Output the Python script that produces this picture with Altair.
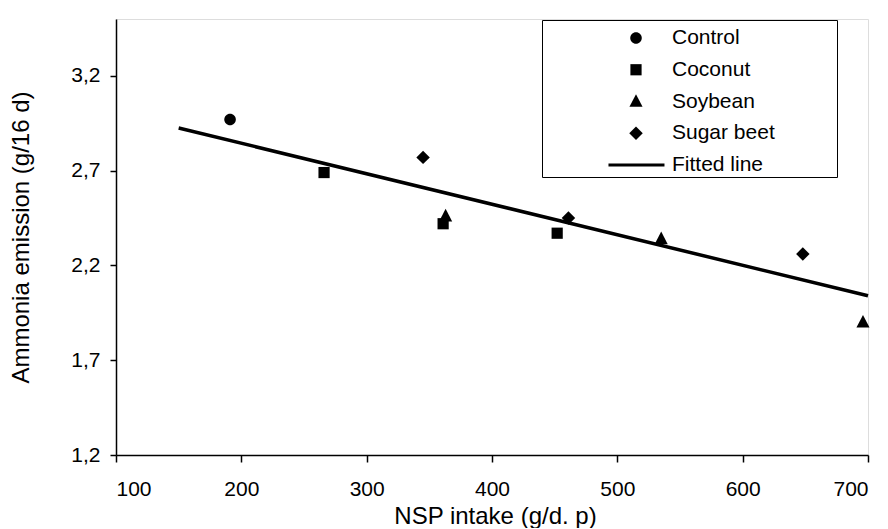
import altair as alt
import pandas as pd

# ---- data ----
groups = ["Control", "Coconut", "Soybean", "Sugar beet"]
control_x = [191]
control_y = [2.97]
coconut_x = [266, 361, 452]
coconut_y = [2.69, 2.42, 2.37]
soybean_x = [363, 535, 696]
soybean_y = [2.46, 2.34, 1.90]
sugarbeet_x = [345, 461, 648]
sugarbeet_y = [2.77, 2.45, 2.26]
fit_x = [150, 700]
fit_y = [2.925, 2.04]
x_ticks = [100, 200, 300, 400, 500, 600, 700]
y_ticks = [1.2, 1.7, 2.2, 2.7, 3.2]

rows = []
for g, xs, ys in zip(groups,
                     [control_x, coconut_x, soybean_x, sugarbeet_x],
                     [control_y, coconut_y, soybean_y, sugarbeet_y]):
    for xv, yv in zip(xs, ys):
        rows.append({"group": g, "x": xv, "y": yv})
points_df = pd.DataFrame(rows)
fit_df = pd.DataFrame({"x": fit_x, "y": fit_y})

FONT = "Liberation Sans"
SYM = 1024  # symbol size -> unit radius 16 px

shape_domain = groups + ["Fitted line"]
shape_range = [
    "M0.36,0A0.36,0.36,0,1,1,-0.36,0A0.36,0.36,0,1,1,0.36,0Z",
    "M-0.35,-0.35L0.35,-0.35L0.35,0.35L-0.35,0.35Z",
    "M0,-0.46L0.41,0.33L-0.41,0.33Z",
    "M0,-0.42L0.42,0L0,0.42L-0.42,0Z",
    "M-1.72,-0.1L1.78,-0.1L1.78,0.1L-1.72,0.1Z",
]

xscale = alt.Scale(domain=[100, 700], nice=False, zero=False)
yscale = alt.Scale(domain=[1.2, 3.5], nice=False, zero=False)

x_axis = alt.Axis(
    values=x_ticks, title="NSP intake (g/d. p)", grid=False,
    tickSize=7, tickWidth=1.5, tickColor="black",
    domainColor="black", domainWidth=1.5,
    labelFont=FONT, labelFontSize=21, labelColor="black", labelPadding=16,
    titleFont=FONT, titleFontSize=24, titleFontWeight="normal", titleColor="black",
    titleX=379, titleY=68, titleBaseline="alphabetic", titleAlign="center",
)
y_axis = alt.Axis(
    values=y_ticks, title="Ammonia emission  (g/16 d)", grid=False,
    tickSize=6, tickWidth=1.5, tickColor="black",
    domainColor="black", domainWidth=1.5,
    labelFont=FONT, labelFontSize=21, labelColor="black", labelPadding=10,
    labelExpr="replace(format(datum.value, '.1f'), '.', ',')",
    titleFont=FONT, titleFontSize=24, titleFontWeight="normal", titleColor="black",
    titleX=-88, titleY=218, titleAngle=-90, titleBaseline="alphabetic", titleAlign="center",
)

line = alt.Chart(fit_df).mark_line(color="black", strokeWidth=3.5).encode(
    x=alt.X("x:Q", scale=xscale, axis=x_axis),
    y=alt.Y("y:Q", scale=yscale, axis=y_axis),
)

points = alt.Chart(points_df).mark_point(
    filled=True, size=SYM, color="black", opacity=1, strokeWidth=0
).encode(
    x=alt.X("x:Q", scale=xscale),
    y=alt.Y("y:Q", scale=yscale),
    shape=alt.Shape(
        "group:N",
        scale=alt.Scale(domain=shape_domain, range=shape_range),
        legend=alt.Legend(
            title="MMMM", titleOrient="right", titleOpacity=0, titlePadding=0,
            titleFont=FONT, titleFontSize=18, titleFontWeight="normal",
            orient="none", legendX=426, legendY=1,
            strokeColor="black", fillColor="white",
            padding=2, rowPadding=5.75,
            symbolSize=SYM, symbolFillColor="black", symbolStrokeWidth=0,
            symbolOpacity=1, symbolOffset=76,
            labelFont=FONT, labelFontSize=21, labelColor="black",
            labelOffset=20,
        ),
    ),
)

chart = alt.layer(line, points).properties(
    width=752, height=436, autosize="none",
    padding={"left": 108, "top": 11, "right": 12, "bottom": 73},
).configure_view(stroke=None).configure_legend(strokeWidth=1.5).configure(background="white")

chart.save("out.html", embed_options={"renderer": "svg", "actions": False})
